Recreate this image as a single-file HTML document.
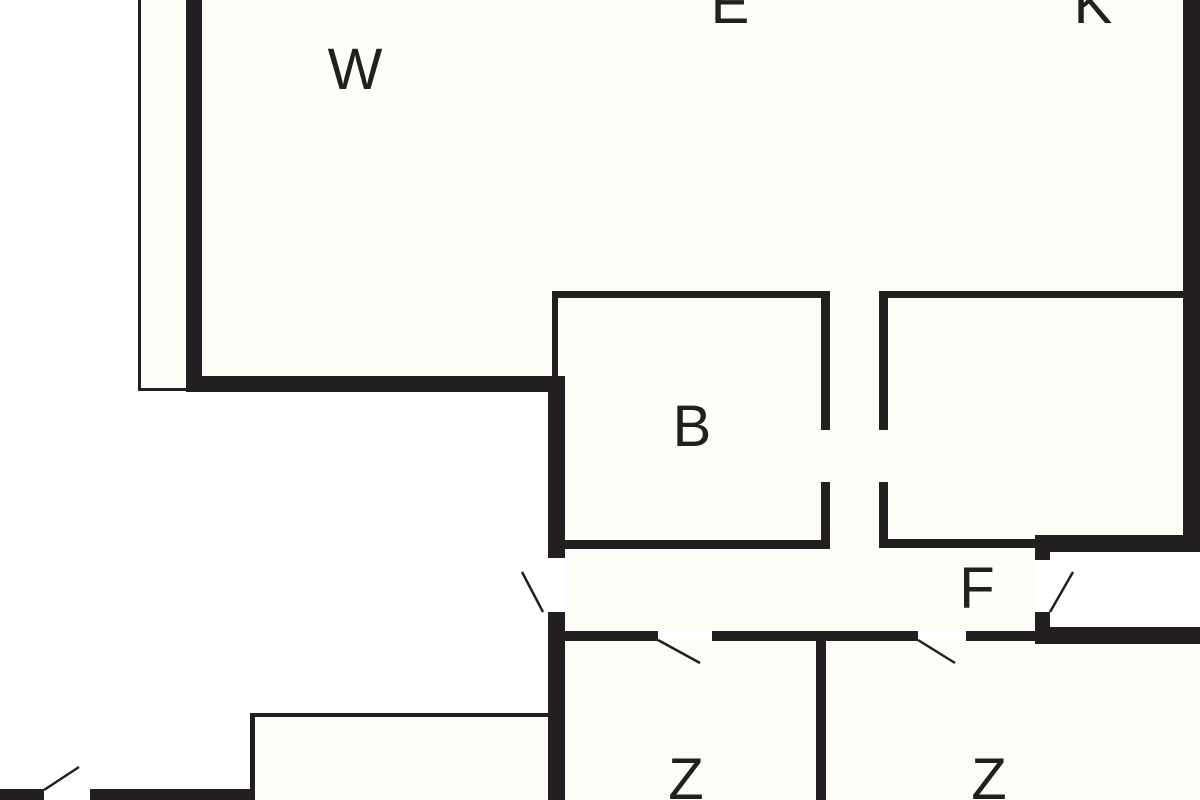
<!DOCTYPE html>
<html><head><style>html,body{margin:0;padding:0;background:#fff;}svg{display:block}</style></head>
<body>
<svg width="1200" height="800" viewBox="0 0 1200 800" xmlns="http://www.w3.org/2000/svg">
<rect width="1200" height="800" fill="#fff"/>
<g fill="#fdfdf8">
<rect x="140" y="0" width="46" height="390"/>
<rect x="202" y="0" width="981" height="376"/>
<rect x="558" y="298" width="625" height="250"/>
<rect x="565" y="548" width="470" height="84"/>
<rect x="565" y="641" width="635" height="159"/>
<rect x="255" y="717" width="293" height="83"/>
<rect x="1050" y="552" width="150" height="75" fill="#fff"/>
</g>
<g fill="#231f20">
<rect x="138" y="0" width="3" height="391"/>
<rect x="138" y="388" width="50" height="3"/>
<rect x="186" y="0" width="16" height="392"/>
<rect x="186" y="376" width="379" height="16"/>
<rect x="1183" y="0" width="17" height="552"/>
<rect x="552" y="291" width="278" height="7"/>
<rect x="552" y="291" width="6" height="90"/>
<rect x="548" y="376" width="17" height="182"/>
<rect x="821" y="291" width="9" height="139"/>
<rect x="821" y="482" width="9" height="67"/>
<rect x="558" y="540" width="272" height="9"/>
<rect x="879" y="291" width="304" height="7"/>
<rect x="879" y="291" width="9" height="139"/>
<rect x="879" y="482" width="9" height="66"/>
<rect x="879" y="539" width="160" height="9"/>
<rect x="1035" y="535" width="165" height="17"/>
<rect x="1035" y="535" width="15" height="25"/>
<rect x="1035" y="612" width="15" height="32"/>
<rect x="1035" y="627" width="165" height="17"/>
<rect x="548" y="612" width="17" height="188"/>
<rect x="565" y="631" width="93" height="10"/>
<rect x="712" y="631" width="206" height="10"/>
<rect x="966" y="631" width="70" height="10"/>
<rect x="816" y="641" width="10" height="159"/>
<rect x="250" y="713" width="298" height="4"/>
<rect x="250" y="713" width="5" height="87"/>
<rect x="0" y="789" width="44" height="11"/>
<rect x="90" y="789" width="165" height="11"/>
</g>
<g stroke="#231f20" stroke-width="2.5" fill="none">
<line x1="522" y1="572" x2="543" y2="612"/>
<line x1="1050" y1="612" x2="1073" y2="572"/>
<line x1="658" y1="640" x2="700" y2="663"/>
<line x1="918" y1="640" x2="955" y2="663"/>
<line x1="44" y1="790" x2="79" y2="767"/>
</g>
<g font-family="Liberation Sans, sans-serif" font-size="58" fill="#231f20" text-anchor="middle">
<text x="355" y="89">W</text>
<text x="730" y="23">E</text>
<text x="1093" y="23">K</text>
<text x="692" y="446">B</text>
<text x="977" y="608">F</text>
<text x="686" y="799">Z</text>
<text x="989" y="799">Z</text>
</g>
</svg>
</body></html>
